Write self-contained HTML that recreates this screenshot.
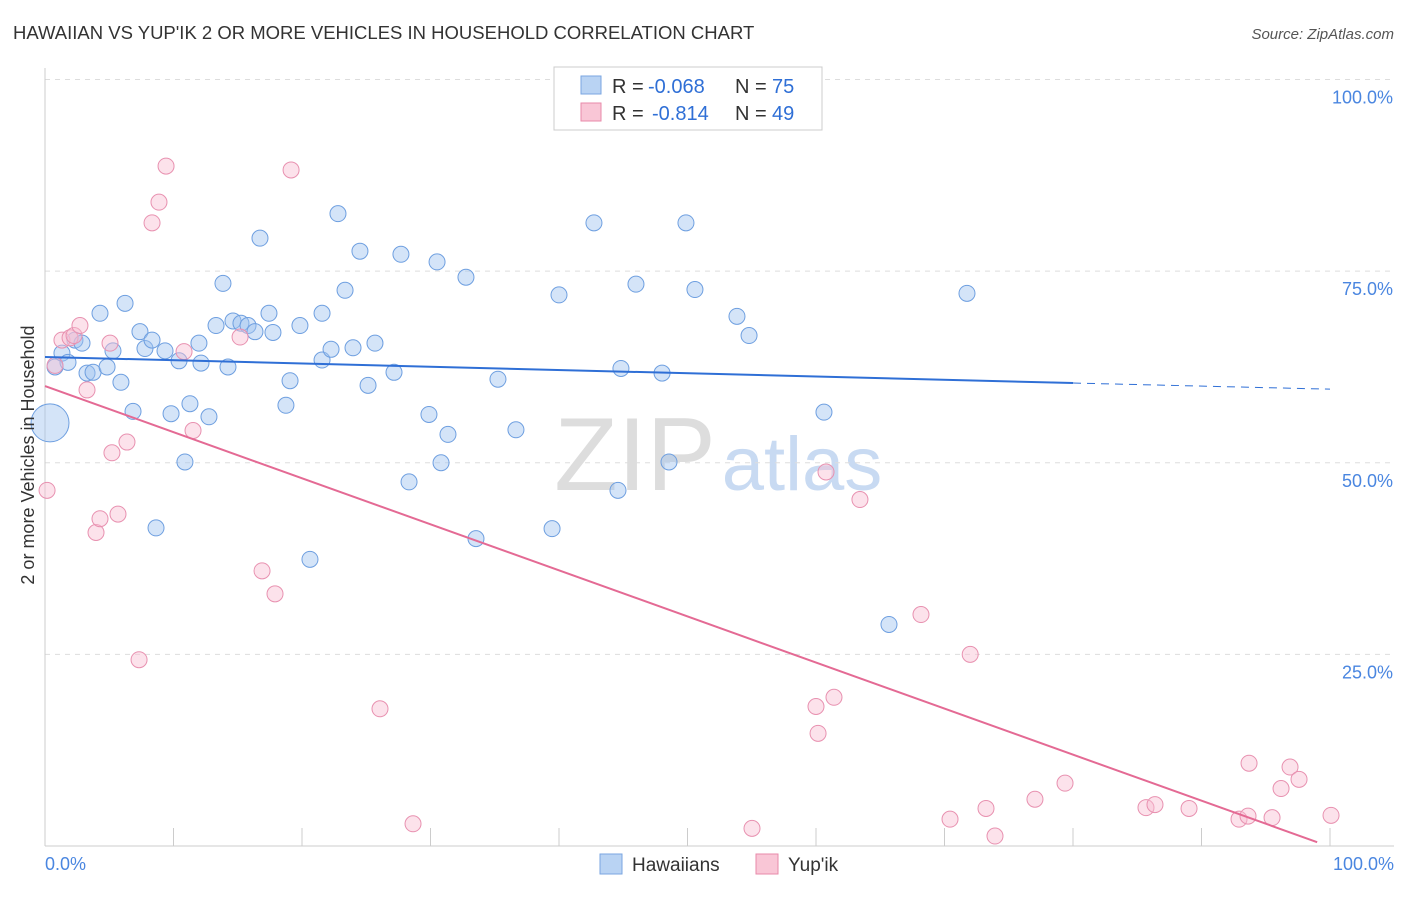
<!DOCTYPE html>
<html><head><meta charset="utf-8"><style>
body{margin:0;background:#fff;font-family:"Liberation Sans",sans-serif}
svg text{font-family:"Liberation Sans",sans-serif}
</style></head><body>
<svg id="c" width="1406" height="892">
<text x="13" y="39" font-size="18.5" fill="#333">HAWAIIAN VS YUP'IK 2 OR MORE VEHICLES IN HOUSEHOLD CORRELATION CHART</text>
<text x="1394" y="39" font-size="15" fill="#555" text-anchor="end" font-style="italic">Source: ZipAtlas.com</text>
<text x="635" y="490" font-size="104" fill="#ddd" text-anchor="middle" font-family="Liberation Serif">ZIP</text>
<text x="802" y="490" font-size="76" fill="#c8daf2" text-anchor="middle">atlas</text>
<g id="grid"></g><g id="pts"></g><g id="lines"></g>
<text x="34" y="455" font-size="18" fill="#333" text-anchor="middle" transform="rotate(-90 34 455)">2 or more Vehicles in Household</text>
<g>
<rect x="554" y="67" width="268" height="63" fill="#fff" stroke="#ccc"/>
<rect x="581" y="76" width="20" height="18" fill="#b9d3f3" stroke="#7aa6e0"/>
<rect x="581" y="103" width="20" height="18" fill="#f9c6d6" stroke="#e88aaa"/>
<text x="612" y="93" font-size="20" fill="#333">R =</text>
<text x="648" y="93" font-size="20" fill="#2f6fd6">-0.068</text>
<text x="735" y="93" font-size="20" fill="#333">N =</text>
<text x="772" y="93" font-size="20" fill="#2f6fd6">75</text>
<text x="612" y="120" font-size="20" fill="#333">R =</text>
<text x="652" y="120" font-size="20" fill="#2f6fd6">-0.814</text>
<text x="735" y="120" font-size="20" fill="#333">N =</text>
<text x="772" y="120" font-size="20" fill="#2f6fd6">49</text>
</g>
<g>
<rect x="600" y="854" width="22" height="20" fill="#b9d3f3" stroke="#7aa6e0"/>
<text x="632" y="871" font-size="19" fill="#333">Hawaiians</text>
<rect x="756" y="854" width="22" height="20" fill="#f9c6d6" stroke="#e88aaa"/>
<text x="788" y="871" font-size="19" fill="#333">Yup'ik</text>
</g>
</svg>
<script>
const yTicks=[25,50,75,100];
const yTickLabels=["25.0%","50.0%","75.0%","100.0%"];
const hawX=[0.78,1.32,1.79,2.33,2.88,3.27,3.74,4.28,4.83,5.29,5.91,6.23,6.85,7.39,7.78,8.33,8.64,9.34,9.81,10.43,10.89,11.28,11.98,12.14,12.76,13.31,13.85,14.24,14.63,15.25,15.80,16.34,16.73,17.43,17.74,18.75,19.07,19.84,20.62,21.56,21.56,22.26,22.80,23.35,23.97,24.51,25.14,25.68,27.16,27.70,28.33,29.88,30.51,30.82,31.36,32.76,33.54,35.25,36.65,39.46,40.00,42.72,44.59,44.82,45.99,48.02,48.56,49.88,50.58,53.85,54.79,60.62,65.68,71.75,0.39];
const hawY=[62.5,64.3,63.1,66.0,65.6,61.7,61.8,69.5,62.5,64.6,60.5,70.8,56.7,67.1,64.9,66.0,41.5,64.6,56.4,63.3,50.1,57.7,65.6,63.0,56.0,67.9,73.4,62.5,68.5,68.2,67.9,67.1,79.3,69.5,67.0,57.5,60.7,67.9,37.4,69.5,63.4,64.8,82.5,72.5,65.0,77.6,60.1,65.6,61.8,77.2,47.5,56.3,76.2,50.0,53.7,74.2,40.1,60.9,54.3,41.4,71.9,81.3,46.4,62.3,73.3,61.7,50.1,81.3,72.6,69.1,66.6,56.6,28.9,72.1,55.2];
const yupX=[0.16,0.78,1.32,1.95,2.26,2.72,3.27,3.97,4.28,5.06,5.21,5.68,6.38,7.32,8.33,8.87,9.42,10.82,11.52,15.18,16.89,17.90,19.15,26.07,28.64,55.02,60.00,60.16,60.78,61.40,63.42,68.17,70.43,72.00,73.23,73.93,77.04,79.38,85.68,86.38,89.03,92.92,93.62,93.70,95.49,96.19,96.89,97.59,100.08];
const yupY=[46.4,62.7,66.0,66.3,66.6,67.9,59.5,40.9,42.7,65.6,51.3,43.3,52.7,24.3,81.3,84.0,88.7,64.5,54.2,66.4,35.9,32.9,88.2,17.9,2.9,2.3,18.2,14.7,48.8,19.4,45.2,30.2,3.5,25.0,4.9,1.3,6.1,8.2,5.0,5.4,4.9,3.5,3.9,10.8,3.7,7.5,10.3,8.7,4.0];
const hawTrend=[63.8,60.4,59.6];
const yupTrend=[60.0,0.5];
const X=v=>45+v*12.85, Y=v=>846-v*7.665;
const NS="http://www.w3.org/2000/svg";
function mk(p,t,a){const e=document.createElementNS(NS,t);for(const k in a)e.setAttribute(k,a[k]);p.appendChild(e);return e;}
const g=document.getElementById('grid');
yTicks.forEach((t,i)=>{
 const l=mk(g,'line',{x1:45,x2:1394,y1:Y(t),y2:Y(t),stroke:'#ddd','stroke-dasharray':'5,5'});
 
 
 const tx=mk(g,'text',{x:1393,y:Y(t)+24,'font-size':18,fill:'#4a86e0','text-anchor':'end'});tx.textContent=yTickLabels[i];
 
 
});
mk(g,'line',{x1:45,x2:45,y1:68,y2:846,stroke:'#ccc'});
mk(g,'line',{x1:45,x2:1394,y1:846,y2:846,stroke:'#ccc'});
for(let i=0;i<=10;i++){const t=mk(g,'line',{x1:X(i*10),x2:X(i*10),y1:828,y2:846,stroke:'#ccc'});
 
 }
let a=mk(g,'text',{x:45,y:870,'font-size':18,fill:'#4a86e0'});a.textContent='0.0%';


a=mk(g,'text',{x:1394,y:870,'font-size':18,fill:'#4a86e0','text-anchor':'end'});a.textContent='100.0%';


const P=document.getElementById('pts');
hawX.forEach((x,i)=>{const c=mk(P,'circle',{cx:X(x),cy:Y(hawY[i]),r:i==hawX.length-1?19:8,fill:'rgba(160,196,240,0.45)',stroke:'#6e9fe0','stroke-width':1});
 
 });
yupX.forEach((x,i)=>{const c=mk(P,'circle',{cx:X(x),cy:Y(yupY[i]),r:8,fill:'rgba(248,190,210,0.45)',stroke:'#e891b0','stroke-width':1});
 
 });
const L=document.getElementById('lines');
let l=mk(L,'line',{x1:X(0),y1:Y(hawTrend[0]),x2:X(80),y2:Y(hawTrend[1]),stroke:'#2f6fd6','stroke-width':2});


l=mk(L,'line',{x1:X(80),y1:Y(hawTrend[1]),x2:X(100),y2:Y(hawTrend[2]),stroke:'#2f6fd6','stroke-width':1,'stroke-dasharray':'8,6'});


l=mk(L,'line',{x1:X(0),y1:Y(yupTrend[0]),x2:X(99),y2:Y(yupTrend[1]),stroke:'#e46a94','stroke-width':2});


</script>
</body></html>
